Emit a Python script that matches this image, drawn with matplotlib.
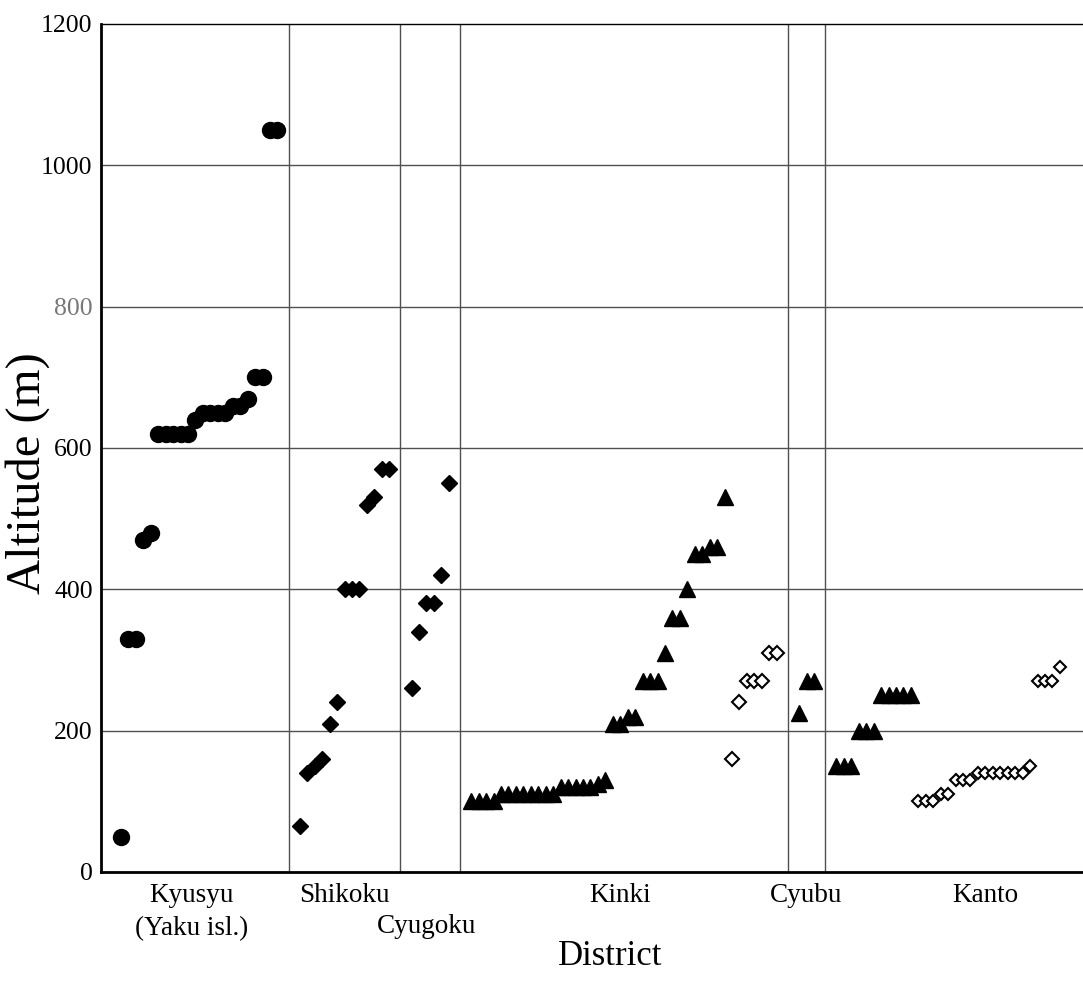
import numpy as np
import matplotlib
matplotlib.use("Agg")
import matplotlib.pyplot as plt
import matplotlib.transforms as mtransforms

plt.rcParams['font.family'] = ['Liberation Serif', 'DejaVu Serif']

# altitudes (m) of each sample, sorted within each group
kyusyu = [50, 330, 330, 470, 480, 620, 620, 620, 620, 620, 640, 650, 650, 650, 650,
          660, 660, 670, 700, 700, 1050, 1050]
shikoku = [65, 140, 150, 160, 210, 240, 400, 400, 400, 520, 530, 570, 570]
cyugoku = [260, 340, 380, 380, 420, 550]
kinki_tri = [100, 100, 100, 100, 110, 110, 110, 110, 110, 110, 110, 110,
             120, 120, 120, 120, 120, 125, 130, 210, 210, 220, 220, 270, 270, 270,
             310, 360, 360, 400, 450, 450, 460, 460, 530]
kinki_open = [160, 240, 270, 270, 270, 310, 310]
cyubu = [225, 270, 270]
kanto_tri = [150, 150, 150, 200, 200, 200, 250, 250, 250, 250, 250]
kanto_open = [100, 100, 100, 110, 110, 130, 130, 130, 140, 140, 140, 140, 140, 140, 140,
              150, 270, 270, 270, 290]

districts = ['Kyusyu\n(Yaku isl.)', 'Shikoku', 'Kinki', 'Cyubu', 'Kanto']
label_x = [9.5, 30, 67, 92, 116]
lower_label = 'Cyugoku'
lower_label_x = 41

# samples placed one slot apart, two empty slots between districts
gap = 2
start = 0
pos = {}
groups = [('kyusyu', kyusyu), ('shikoku', shikoku), ('cyugoku', cyugoku),
          ('kinki', kinki_tri + kinki_open), ('cyubu', cyubu),
          ('kanto', kanto_tri + kanto_open)]
borders = []
for name, vals in groups:
    pos[name] = np.arange(start, start + len(vals))
    start += len(vals) + gap
    borders.append(start - 1.5)
borders = borders[:-1]

fig = plt.figure(figsize=(10.83, 9.98), dpi=100)
ax = fig.add_axes([101 / 1083, 1 - 872 / 998, 982 / 1083, 848 / 998])

line_col = '#505050'
for yv in [200, 400, 600, 800, 1000]:
    ax.axhline(yv, color=line_col, lw=1.0, zorder=1)
for b in borders:
    ax.axvline(b, color=line_col, lw=1.0, zorder=1)

ax.plot(pos['kyusyu'], kyusyu, 'o', color='black', ms=11.5, ls='none', zorder=3)
ax.plot(pos['shikoku'], shikoku, 'D', color='black', ms=8, ls='none', zorder=3)
ax.plot(pos['cyugoku'], cyugoku, 'D', color='black', ms=8, ls='none', zorder=3)
nk = len(kinki_tri)
ax.plot(pos['kinki'][:nk], kinki_tri, '^', color='black', ms=11, ls='none', zorder=3)
ax.plot(pos['kinki'][nk:], kinki_open, 'D', mfc='white', mec='black', mew=1.5,
        ms=6.8, ls='none', zorder=3)
ax.plot(pos['cyubu'], cyubu, '^', color='black', ms=11, ls='none', zorder=3)
nt = len(kanto_tri)
ax.plot(pos['kanto'][:nt], kanto_tri, '^', color='black', ms=11, ls='none', zorder=3)
ax.plot(pos['kanto'][nt:], kanto_open, 'D', mfc='white', mec='black', mew=1.5,
        ms=6.5, ls='none', zorder=3)

ax.set_xlim(-2.68, 129.1)
ax.set_ylim(0, 1200)
ax.set_yticks(range(0, 1201, 200))
ax.tick_params(axis='y', length=0, pad=6, labelsize=18.5)
for t in ax.get_yticklabels():
    if t.get_text() == '800':
        t.set_color('#777777')

ax.set_xticks(label_x)
ax.set_xticklabels(districts, fontsize=19.5, linespacing=1.4)
ax.tick_params(axis='x', length=0, pad=8)

# Cyugoku label sits on the second line, below Shikoku
trans = mtransforms.blended_transform_factory(ax.transData, ax.transAxes)
ax.text(lower_label_x, -0.0637, lower_label, transform=trans, fontsize=19.5,
        ha='center', va='center')

ax.set_ylabel('Altitude (m)', fontsize=35)
ax.yaxis.set_label_coords(-0.052, 0.47)
ax.set_xlabel('District', fontsize=25)
ax.xaxis.set_label_coords(0.519, -0.08)

ax.spines['right'].set_visible(False)
ax.spines['left'].set_linewidth(2)
ax.spines['bottom'].set_linewidth(2)
ax.spines['top'].set_linewidth(1)

fig.savefig('out.png', dpi=100)
